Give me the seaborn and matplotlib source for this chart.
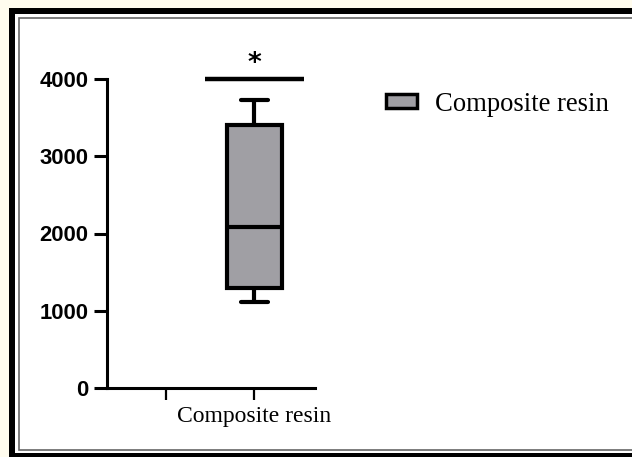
import matplotlib
matplotlib.use("Agg")
import matplotlib.pyplot as plt
from matplotlib.patches import Rectangle, Patch
import seaborn as sns
import pandas as pd

# ---- data ----
categories = ["", "Composite resin"]
material = ["Composite resin"] * 5
values = [1113, 1294, 2084, 3405, 3728]
y_ticks = [0, 1000, 2000, 3000, 4000]
sig_label = "*"
sig_level = 4000
sig_span = [0.44, 1.57]
legend_label = "Composite resin"

box_color = "#a09fa4"

df = pd.DataFrame({"Material": material, "Value": values})

sns.set_style("white")
plt.rcParams["text.color"] = "black"
plt.rcParams["xtick.color"] = "black"
plt.rcParams["ytick.color"] = "black"
W, H = 632, 457
fig = plt.figure(figsize=(W / 100, H / 100), dpi=100)
fig.patch.set_facecolor("#fffcee")

def px_rect(x0, y0, x1, y1, **kw):
    # pixel coords with origin top-left
    r = Rectangle((x0 / W, 1 - y1 / H), (x1 - x0) / W, (y1 - y0) / H,
                  transform=fig.transFigure, **kw)
    fig.patches.append(r)

px_rect(9, 8, 660, 470, facecolor="black", edgecolor="none", zorder=-10)
px_rect(15, 14, 660, 453, facecolor="white", edgecolor="none", zorder=-9)
px_rect(18.5, 17.5, 660, 450, facecolor="white", edgecolor="#666666", linewidth=1.2, zorder=-8)

ax = fig.add_axes([107 / W, 1 - 388 / H, (315 - 107) / W, (388 - 79) / H])
ax.set_zorder(5)
ax.set_facecolor("none")

sns.boxplot(data=df, x="Material", y="Value", order=categories, whis=(0, 100),
            width=0.62, color=box_color, linecolor="black", linewidth=3,
            saturation=1, ax=ax)

ax.set_xlim(-0.67, 1.69)
ax.set_ylim(0, 4000)
ax.set_yticks(y_ticks)
ax.set_yticklabels([str(t) for t in y_ticks], fontfamily="Liberation Sans",
                   fontweight="bold", fontsize=15.8, color="black")
ax.set_xticks(range(len(categories)))
ax.set_xticklabels(categories, fontfamily="Liberation Serif", fontsize=17,
                   color="black")
ax.set_xlabel("")
ax.set_ylabel("")
for s in ["top", "right"]:
    ax.spines[s].set_visible(False)
for s in ["left", "bottom"]:
    ax.spines[s].set_linewidth(2.2)
    ax.spines[s].set_color("black")
ax.tick_params(axis="y", length=9.5, width=2.2, pad=4, color="black", left=True)
ax.tick_params(axis="x", length=8.5, width=1.6, pad=4.5, color="black", bottom=True)

# significance bar
ax.plot(sig_span, [sig_level, sig_level], color="black", lw=3.2, clip_on=False,
        solid_capstyle="butt")
ax.text(1, sig_level + 30, sig_label, ha="center", va="bottom", fontsize=19,
        fontweight="bold", fontfamily="DejaVu Sans", color="black")

# legend
handle = Patch(facecolor=box_color, edgecolor="black", linewidth=2.5)
leg = fig.legend([handle], [legend_label], loc="upper left",
                 bbox_to_anchor=(362 / W, 1 - 68 / H), frameon=False,
                 prop={"family": "Liberation Serif", "size": 19.2},
                 handlelength=1.15, handleheight=0.43, handletextpad=0.7,
                 labelcolor="black")

fig.savefig("out.png", dpi=100, facecolor=fig.get_facecolor())
